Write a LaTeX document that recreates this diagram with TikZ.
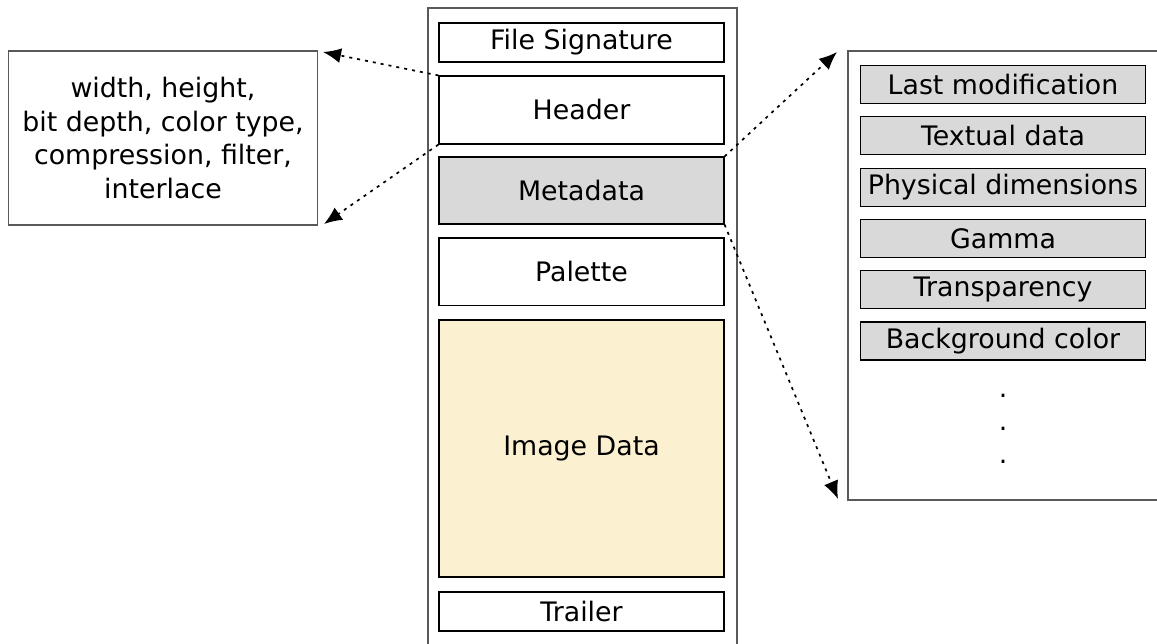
\documentclass[tikz,border=0pt]{standalone}
\usepackage{fontspec}
\setmainfont{DejaVu Sans}
\usetikzlibrary{arrows.meta}
\definecolor{metagray}{HTML}{D9D9D9}
\definecolor{imgbeige}{HTML}{FBF0D0}
\newcommand{\boxfont}{\fontsize{26.8}{33.5}\selectfont}
\tikzset{
  blk/.style={draw=black, line width=1.1pt, rectangle, inner sep=0pt, align=center,
              font=\boxfont},
  frame/.style={draw=black!65, line width=1.1pt, rectangle, inner sep=0pt, align=center,
              font=\boxfont},
  chunk/.style={blk, minimum width=285pt},
  sub/.style={blk, fill=metagray, minimum width=285pt, minimum height=38pt},
  dotmark/.style={inner sep=0pt, anchor=base, font=\boxfont},
  arr/.style={line width=1.7pt, dash pattern=on 3pt off 5pt,
              -{Latex[length=18pt,width=15pt]}}
}
\begin{document}
\begin{tikzpicture}[x=1pt,y=-1pt]
\useasboundingbox (0,0) rectangle (1157,643);
\clip (0,0) rectangle (1157,643);
\fill[white] (0,0) rectangle (1157,643);

% PNG layout column
\node[frame, minimum width=309pt, minimum height=660pt] (png) at (582.5,338) {};
\node[chunk, minimum height=39pt] (sig) at (581.5,42.5) {File Signature};
\node[chunk, minimum height=68pt] (hdr) at (581.5,110) {Header};
\node[chunk, minimum height=67pt, fill=metagray] (meta) at (581.5,190.5) {Metadata};
\node[chunk, minimum height=67.5pt] (pal) at (581.5,271.7) {Palette};
\node[chunk, minimum height=257pt, fill=imgbeige] (img) at (581.5,448.5) {Image Data};
\node[chunk, minimum height=39pt] (trl) at (581.5,611.5) {Trailer};

% header fields
\node[frame, minimum width=309.4pt, minimum height=174pt] (info) at (163,138)
  {width, height,\\bit depth, color type,\\compression, filter,\\interlace};

% metadata chunks
\node[frame, minimum width=317pt, minimum height=449pt] (mlist) at (1006.5,275.5) {};
\node[sub] (m1) at (1003,84.5) {Last modification};
\node[sub] (m2) at (1003,135.8) {Textual data};
\node[sub] (m3) at (1003,187.1) {Physical dimensions};
\node[sub] (m4) at (1003,238.4) {Gamma};
\node[sub] (m5) at (1003,289.7) {Transparency};
\node[sub] (m6) at (1003,341) {Background color};
\node[dotmark] (d1) at (1003,397.5) {.};
\node[dotmark] (d2) at (1003,430.5) {.};
\node[dotmark] (d3) at (1003,463.5) {.};

% arrow targets
\coordinate (infoTop) at (323,52);
\coordinate (infoBot) at (324,224);
\coordinate (listTop) at (837,52);
\coordinate (listBot) at (838,499);

\draw[arr] (hdr.north west) -- (infoTop);
\draw[arr] (hdr.south west) -- (infoBot);
\draw[arr] (meta.north east) -- (listTop);
\draw[arr] (meta.south east) -- (listBot);
\end{tikzpicture}
\end{document}
